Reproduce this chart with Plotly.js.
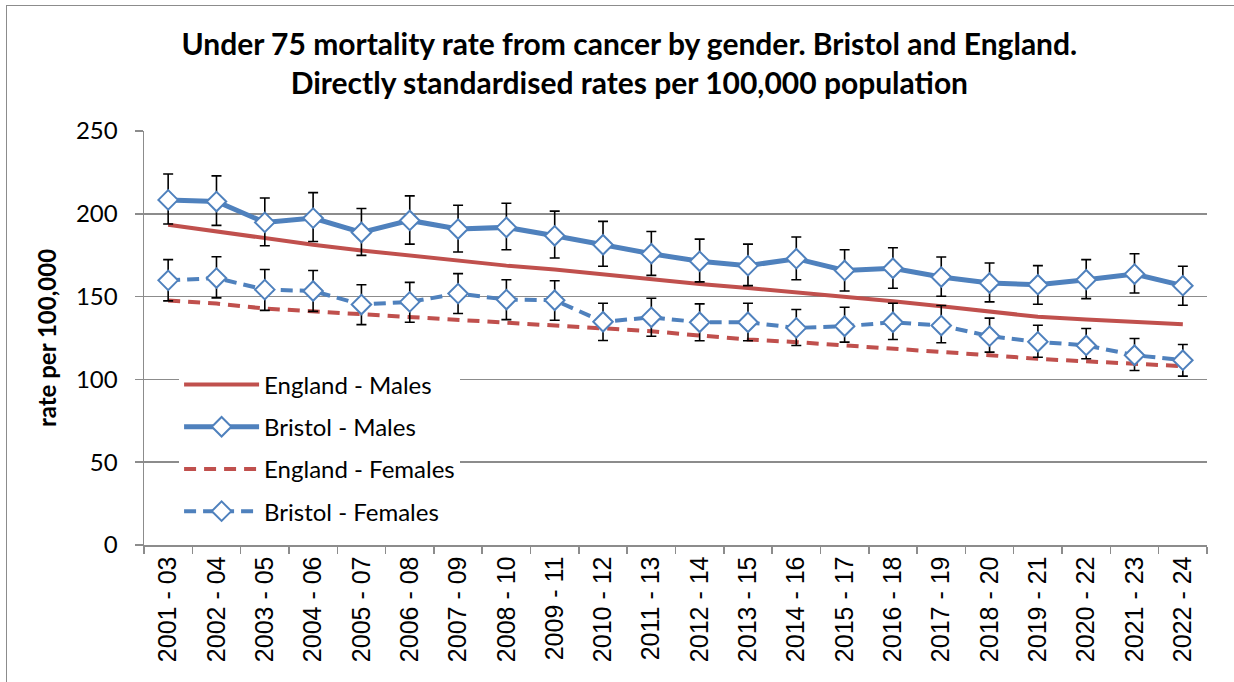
<!DOCTYPE html>
<html>
<head>
<meta charset="utf-8">
<script src="https://cdn.plot.ly/plotly-3.0.1.min.js"></script>
<style>
  html, body { margin: 0; padding: 0; background: #fff; }
  #wrap { position: relative; width: 1234px; height: 682px; overflow: hidden; }
  #chart { position: absolute; left: 0; top: 0; width: 1234px; height: 682px; }
  #frame { position: absolute; left: 6px; top: 5px; width: 1240px; height: 700px;
           border-left: 1.5px solid #8c8c8c; border-top: 1.5px solid #8c8c8c; pointer-events: none; }
</style>
</head>
<body>
<div id="wrap">
  <div id="chart"></div>
  <div id="frame"></div>
</div>
<script>
const periods = ["2001 - 03","2002 - 04","2003 - 05","2004 - 06","2005 - 07","2006 - 08","2007 - 09","2008 - 10","2009 - 11","2010 - 12","2011 - 13","2012 - 14","2013 - 15","2014 - 16","2015 - 17","2016 - 18","2017 - 19","2018 - 20","2019 - 21","2020 - 22","2021 - 23","2022 - 24"];

const englandMales = [193.4,189.3,185.4,181.3,177.9,174.7,171.7,168.7,166.3,163.3,160.8,157.6,155.2,152.6,150.2,147.2,144.2,141.1,137.8,136.1,134.5,133.3];

const bristolMales      = [208.4,207.4,194.8,197.4,188.7,196.0,190.8,191.8,186.7,181.3,175.9,171.3,168.7,172.9,165.8,167.1,161.8,158.2,157.2,160.2,163.6,156.6];
const bristolMalesUpper = [224.0,222.9,209.5,212.8,203.2,210.8,205.2,206.4,201.6,195.4,189.3,184.7,181.7,186.0,178.3,179.5,173.9,170.3,168.7,172.3,175.9,168.3];
const bristolMalesLower = [193.8,193.0,180.7,183.3,174.9,181.7,176.9,178.3,173.3,168.3,162.8,158.9,156.6,160.2,153.4,155.0,150.2,146.8,145.4,148.8,152.2,144.8];

const englandFemales = [147.6,145.8,142.8,141.1,139.2,137.5,136.1,134.1,132.1,130.5,129.1,126.5,124.1,122.5,120.5,119.1,117.1,114.6,112.4,111.0,109.4,108.0];

const bristolFemales      = [159.8,161.2,154.2,153.4,145.2,146.8,151.8,148.2,147.8,134.8,137.5,134.5,134.5,131.1,132.1,134.5,132.5,126.1,122.7,120.5,114.6,111.6];
const bristolFemalesUpper = [172.3,174.1,166.4,165.8,157.2,158.6,163.9,160.2,159.6,146.0,149.0,145.6,146.0,142.2,143.6,146.0,144.6,137.0,132.7,130.7,124.7,121.1];
const bristolFemalesLower = [147.4,149.2,141.7,141.1,133.1,134.5,139.8,136.1,135.7,123.5,126.1,123.3,123.3,120.5,122.5,124.1,122.1,116.5,113.4,112.5,105.4,102.0];

const RED = "#C0504D";
const BLUE = "#4F81BD";

function errUp(vals, up) { return vals.map((v, i) => +(up[i] - v).toFixed(2)); }
function errDn(vals, lo) { return vals.map((v, i) => +(v - lo[i]).toFixed(2)); }

const errStyle = { type: "data", symmetric: false, color: "#000", thickness: 1.6, width: 5 };

const traces = [
  {
    name: "England - Males", x: periods, y: englandMales, type: "scatter", mode: "lines",
    line: { color: RED, width: 4 }, legendgroup: "a"
  },
  {
    name: "Bristol - Males", x: periods, y: bristolMales, type: "scatter", mode: "lines+markers",
    line: { color: BLUE, width: 5 },
    marker: { symbol: "diamond", size: 15, color: "#fff", line: { color: BLUE, width: 2 } },
    error_y: Object.assign({}, errStyle, { array: errUp(bristolMales, bristolMalesUpper), arrayminus: errDn(bristolMales, bristolMalesLower) }),
    legendgroup: "b"
  },
  {
    name: "England - Females", x: periods, y: englandFemales, type: "scatter", mode: "lines",
    line: { color: RED, width: 4, dash: "12px,8px" }, legendgroup: "c"
  },
  {
    name: "Bristol - Females", x: periods, y: bristolFemales, type: "scatter", mode: "lines+markers",
    line: { color: BLUE, width: 4, dash: "12px,7px" },
    marker: { symbol: "diamond", size: 15, color: "#fff", line: { color: BLUE, width: 2 } },
    error_y: Object.assign({}, errStyle, { array: errUp(bristolFemales, bristolFemalesUpper), arrayminus: errDn(bristolFemales, bristolFemalesLower) }),
    legendgroup: "d"
  }
];

const layout = {
  width: 1234, height: 682,
  paper_bgcolor: "rgba(0,0,0,0)", plot_bgcolor: "#fff",
  margin: { l: 144, r: 27, t: 131, b: 137, pad: 0 },
  font: { family: "Lato, 'Open Sans', sans-serif", color: "#000", size: 24 },
  title: {
    text: "<b>Under 75 mortality rate from cancer by gender. Bristol and England.<br>Directly standardised rates per 100,000 population</b>",
    font: { family: "Lato, 'Open Sans', sans-serif", size: 30, color: "#000" },
    x: 0.51, xref: "container", xanchor: "center",
    y: 0.92, yref: "container", yanchor: "top"
  },
  showlegend: true,
  legend: {
    x: 0.033, xanchor: "left", y: 0.441, yanchor: "top",
    bgcolor: "#fff", borderwidth: 0, itemwidth: 75,
    font: { size: 24, family: "Lato, 'Open Sans', sans-serif" },
    tracegroupgap: 8, traceorder: "grouped"
  },
  xaxis: {
    type: "category", tickangle: -90,
    tickfont: { family: "'Liberation Sans', Arial, sans-serif", size: 25 },
    showline: true, linecolor: "#8c8c8c", linewidth: 1.5,
    ticks: "outside", tickson: "boundaries", ticklen: 7, tickcolor: "#8c8c8c", tickwidth: 1.5,
    showgrid: false, mirror: false, range: [-0.5, 21.5], automargin: false
  },
  yaxis: {
    range: [0, 250], tickvals: [0, 50, 100, 150, 200, 250],
    tickfont: { size: 24 }, ticklabelstandoff: 12,
    showline: true, linecolor: "#8c8c8c", linewidth: 1.5,
    ticks: "outside", ticklen: 8, tickcolor: "#8c8c8c", tickwidth: 1.5,
    showgrid: true, gridcolor: "#8c8c8c", gridwidth: 1.5,
    zeroline: false, automargin: false,
    title: { text: "<b>rate per 100,000</b>", font: { size: 24 }, standoff: 12 }
  }
};

Plotly.newPlot("chart", traces, layout, { displayModeBar: false, staticPlot: true });
</script>
</body>
</html>
